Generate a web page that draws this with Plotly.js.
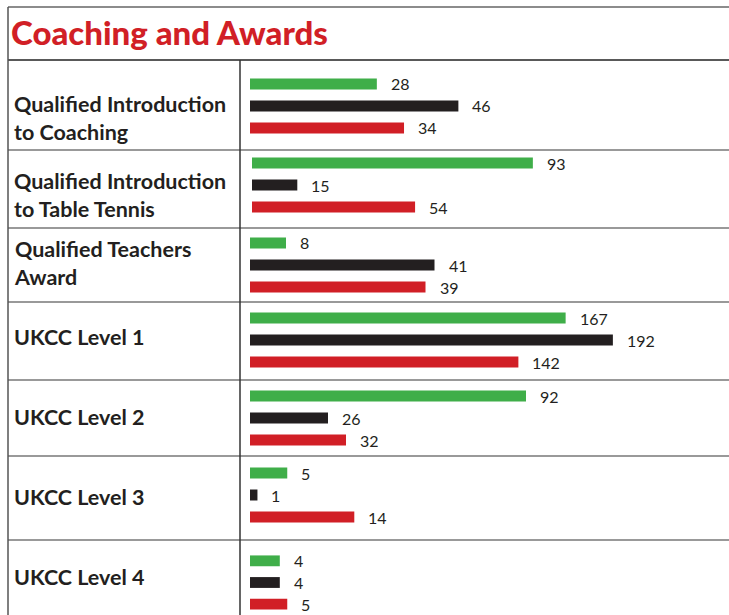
<!DOCTYPE html>
<html>
<head>
<meta charset="utf-8">
<script src="https://cdn.plot.ly/plotly-3.0.1.min.js"></script>
<style>
  html, body { margin: 0; padding: 0; background: #fff; }
  #chart { width: 729px; height: 615px; }
</style>
</head>
<body>
<div id="chart"></div>
<script>
// Chart data
var categories = [
    "Qualified Introduction<br>to Coaching",
    "Qualified Introduction<br>to Table Tennis",
    "Qualified Teachers<br>Award",
    "UKCC Level 1",
    "UKCC Level 2",
    "UKCC Level 3",
    "UKCC Level 4"
];
var greenValues = [28, 93, 8, 167, 92, 5, 4];
var blackValues = [46, 15, 41, 192, 26, 1, 4];
var redValues = [34, 54, 39, 142, 32, 14, 5];

var barColors = ['#3fae49', '#231f20', '#d11f26'];

// Page geometry (pixels from top-left of the 729x615 page)
var W = 729, H = 615;
function px(x) { return x / W; }
function py(y) { return 1 - y / H; }

// each row is drawn at its own scale, like the printed graphic
var rowTop = [84, 163, 243, 318, 396, 473, 561];     // centre of first bar
var rowStart = [250, 252, 250, 250, 250, 250, 250];
var rowScale = [4.53, 3.02, 4.5, 1.89, 3.0, 7.45, 7.45]; // pixels per unit
var labelY = [118, 195, 263, 337, 417, 497, 577];
var rowLines = [150, 228, 302, 380, 456, 540];
var step = 22;

var traces = [];
var layout = {
    width: W,
    height: H,
    margin: {l: 0, r: 0, t: 0, b: 0},
    paper_bgcolor: '#fff',
    plot_bgcolor: 'rgba(0,0,0,0)',
    showlegend: false,
    font: {family: 'Lato, "Open Sans", sans-serif', color: '#231f20'},
    title: {
        text: 'Coaching and Awards',
        font: {family: 'Lato, "Open Sans", sans-serif', size: 33, color: '#d11f26', weight: 900},
        x: px(11), xanchor: 'left',
        y: py(33), yanchor: 'middle'
    },
    annotations: [],
    shapes: []
};

categories.forEach(function (cat, i) {
    var n = i === 0 ? '' : String(i + 1);
    var vals = [greenValues[i], blackValues[i], redValues[i]];

    traces.push({
        type: 'bar',
        orientation: 'h',
        x: vals,
        y: [0, 1, 2],
        width: 0.5,
        marker: {color: barColors},
        xaxis: 'x' + n,
        yaxis: 'y' + n,
        hoverinfo: 'none'
    });

    var top = rowTop[i] - step / 2;
    layout['xaxis' + n] = {
        domain: [px(rowStart[i]), 1],
        range: [0, (W - rowStart[i]) / rowScale[i]],
        anchor: 'y' + n,
        showgrid: false, zeroline: false, showticklabels: false, showline: false
    };
    layout['yaxis' + n] = {
        domain: [py(top + 3 * step), py(top)],
        range: [2.5, -0.5],
        anchor: 'x' + n,
        showgrid: false, zeroline: false, showticklabels: false, showline: false
    };

    // value labels next to the bars
    vals.forEach(function (v, j) {
        layout.annotations.push({
            x: v, y: j,
            xref: 'x' + n, yref: 'y' + n,
            text: String(v),
            showarrow: false,
            xanchor: 'left', yanchor: 'middle',
            xshift: 12,
            font: {size: 16, color: '#231f20'}
        });
    });

    // category label on the left
    layout.annotations.push({
        x: px(12), y: py(labelY[i]),
        xref: 'paper', yref: 'paper',
        text: '<b>' + cat + '</b>',
        showarrow: false,
        align: 'left',
        xanchor: 'left', yanchor: 'middle',
        font: {size: 21.5, color: '#231f20'}
    });
});

// table frame
function hline(y, color) {
    return {type: 'line', xref: 'paper', yref: 'paper', x0: px(8), x1: 1, y0: py(y), y1: py(y),
        line: {color: color, width: 1.5}};
}
layout.shapes.push(hline(7, '#666'));
layout.shapes.push(hline(60, '#222'));
rowLines.forEach(function (y) { layout.shapes.push(hline(y, '#777')); });
layout.shapes.push({type: 'line', xref: 'paper', yref: 'paper', x0: px(8), x1: px(8), y0: py(7), y1: 0,
    line: {color: '#555', width: 1.5}});
layout.shapes.push({type: 'line', xref: 'paper', yref: 'paper', x0: px(240), x1: px(240), y0: py(60), y1: 0,
    line: {color: '#333', width: 1.5}});

Plotly.newPlot('chart', traces, layout, {staticPlot: true});
</script>
</body>
</html>
